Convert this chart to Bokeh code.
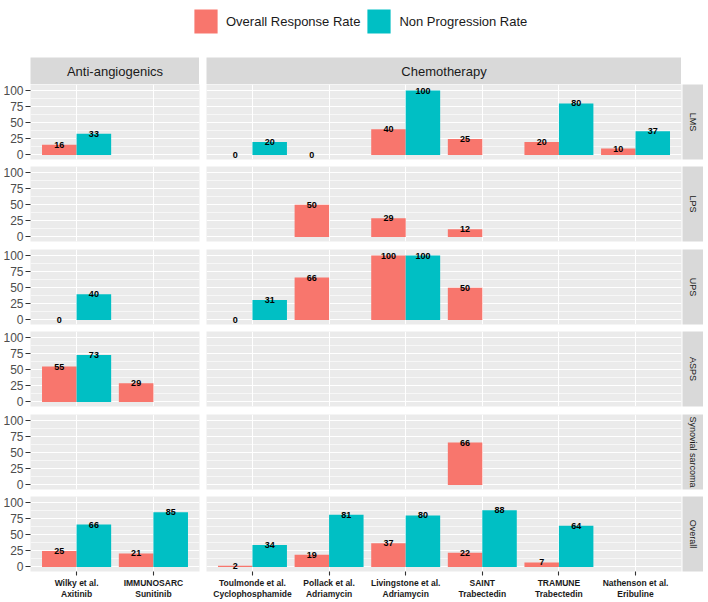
import math
from bokeh.plotting import figure
from bokeh.models import (ColumnDataSource, FactorRange, Range1d, FixedTicker, Label,
                          Legend, LegendItem, GridBox)
from bokeh.transform import dodge
from bokeh.core.properties import value
from bokeh.embed import file_html
from bokeh.resources import INLINE

# ---------------- data ----------------
series_names = ["Overall Response Rate", "Non Progression Rate"]
groups = ["Anti-angiogenics", "Chemotherapy"]
studies_aa = ["Wilky et al.\nAxitinib", "IMMUNOSARC\nSunitinib"]
studies_ch = ["Toulmonde et al.\nCyclophosphamide", "Pollack et al.\nAdriamycin",
              "Livingstone et al.\nAdriamycin", "SAINT\nTrabectedin",
              "TRAMUNE\nTrabectedin", "Nathenson et al.\nEribuline"]
histologies = ["LMS", "LPS", "UPS", "ASPS", "Synovial sarcoma", "Overall"]
y_ticks = [0, 25, 50, 75, 100]

# values in order: 2 anti-angiogenic studies, then 6 chemotherapy studies (None = not reported)
orr_lms = [16, None, 0, 0, 40, 25, 20, 10]
npr_lms = [33, None, 20, None, 100, None, 80, 37]
orr_lps = [None, None, None, 50, 29, 12, None, None]
npr_lps = [None, None, None, None, None, None, None, None]
orr_ups = [0, None, 0, 66, 100, 50, None, None]
npr_ups = [40, None, 31, None, 100, None, None, None]
orr_asps = [55, 29, None, None, None, None, None, None]
npr_asps = [73, None, None, None, None, None, None, None]
orr_syn = [None, None, None, None, None, 66, None, None]
npr_syn = [None, None, None, None, None, None, None, None]
orr_all = [25, 21, 2, 19, 37, 22, 7, None]
npr_all = [66, 85, 34, 81, 80, 88, 64, None]

orr_rows = [orr_lms, orr_lps, orr_ups, orr_asps, orr_syn, orr_all]
npr_rows = [npr_lms, npr_lps, npr_ups, npr_asps, npr_syn, npr_all]

# ---------------- style / layout ----------------
C_ORR = "#F8766D"
C_NPR = "#00BFC4"
PANEL_BG = "#EBEBEB"
STRIP_BG = "#D9D9D9"
FONT = "Liberation Sans"
Y_LO, Y_HI = -7, 109.5
PH = 75                      # panel frame height
ROW_GAPS = [7, 8, 7, 8, 7]   # space below rows 1..5
LEFT_AX = 30
W_AA = 169
PANEL_GAP = 7
W_CH = 475
STRIP_W = 21
STRIP_H = 27
BOTTOM_AX = 27
LEGEND_H = 57
TOTAL_W = LEFT_AX + W_AA + PANEL_GAP + W_CH + 1 + STRIP_W


def base_fig(fw, fh, left=0, right=0, top=0, bottom=0, **kw):
    return figure(frame_width=fw, frame_height=fh, toolbar_location=None,
                  output_backend="svg", outline_line_color=None,
                  min_border_left=left, min_border_right=right,
                  min_border_top=top, min_border_bottom=bottom,
                  border_fill_color="white", **kw)


def make_panel(studies, orr, npr, left_axis, bottom_axis, fw, right_border, gap):
    p = base_fig(fw, PH, left=LEFT_AX if left_axis else 0, right=right_border,
                 bottom=BOTTOM_AX if bottom_axis else gap,
                 x_range=FactorRange(*studies, range_padding=0.1, range_padding_units="absolute"),
                 y_range=Range1d(Y_LO, Y_HI),
                 x_axis_location="below" if bottom_axis else None,
                 y_axis_location="left" if left_axis else None,
                 background_fill_color=PANEL_BG)

    p.xgrid.grid_line_color = "white"
    p.xgrid.grid_line_width = 1.1
    p.ygrid.ticker = FixedTicker(ticks=y_ticks, minor_ticks=[12.5, 37.5, 62.5, 87.5])
    p.ygrid.grid_line_color = "white"
    p.ygrid.grid_line_width = 1.1
    p.ygrid.minor_grid_line_color = "white"
    p.ygrid.minor_grid_line_width = 0.6

    if left_axis:
        ax = p.yaxis[0]
        ax.ticker = FixedTicker(ticks=y_ticks)
        ax.axis_line_color = None
        ax.major_tick_in = 0
        ax.major_tick_out = 5
        ax.major_tick_line_color = "#333333"
        ax.major_tick_line_width = 1.1
        ax.minor_tick_line_color = None
        ax.major_label_standoff = 2
        ax.major_label_text_font_size = "12px"
        ax.major_label_text_color = "#4D4D4D"
        ax.major_label_text_font = FONT
    if bottom_axis:
        ax = p.xaxis[0]
        ax.axis_line_color = None
        ax.major_tick_in = 0
        ax.major_tick_out = 4
        ax.major_tick_line_color = "#333333"
        ax.major_tick_line_width = 1.1
        ax.major_label_standoff = 2
        ax.major_label_text_font_size = "8.5px"
        ax.major_label_text_line_height = 1.1
        ax.major_label_text_font_style = "bold"
        ax.major_label_text_color = "#1A1A1A"
        ax.major_label_text_font = FONT

    sources = []
    for vals, off, color in ((orr, -0.225, C_ORR), (npr, 0.225, C_NPR)):
        xs = [s for s, v in zip(studies, vals) if v is not None]
        ys = [v for v in vals if v is not None]
        if not xs:
            continue
        src = ColumnDataSource(dict(x=xs, y=ys, lbl=[str(v) for v in ys]))
        p.vbar(x=dodge("x", off, range=p.x_range), top="y", width=0.45, source=src,
               fill_color=color, line_color=None)
        sources.append((src, off))
    for src, off in sources:
        p.text(x=dodge("x", off, range=p.x_range), y="y", text="lbl", source=src,
               text_align="center", text_baseline="middle", text_font_style="bold",
               text_font_size="9px", text_color="black", text_font=value(FONT))
    return p


def make_strip(text, fw, fh, left=0, bottom=0, angle=0.0, size="13px"):
    s = base_fig(fw, fh, left=left, bottom=bottom,
                 x_range=Range1d(0, 1), y_range=Range1d(0, 1),
                 x_axis_location=None, y_axis_location=None,
                 background_fill_color=STRIP_BG)
    s.grid.visible = False
    s.add_layout(Label(x=0.5, y=0.5, text=text, text_align="center",
                       text_baseline="middle", angle=angle, text_font_size=size,
                       text_color="#1A1A1A", text_font=FONT))
    return s


children = []

# legend
lg = base_fig(TOTAL_W, LEGEND_H, x_range=FactorRange(*series_names), y_range=Range1d(0, 1),
              x_axis_location=None, y_axis_location=None)
lg.grid.visible = False
r_orr = lg.vbar(x=[series_names[0]], top=[0], width=0.45, fill_color=C_ORR, line_color=None)
r_npr = lg.vbar(x=[series_names[1]], top=[0], width=0.45, fill_color=C_NPR, line_color=None)
legend = Legend(items=[LegendItem(label=series_names[0], renderers=[r_orr]),
                       LegendItem(label=series_names[1], renderers=[r_npr])],
                orientation="horizontal", location=(191, LEGEND_H - 36), margin=0, padding=0,
                spacing=4, glyph_width=29, glyph_height=30, label_standoff=6, label_height=30,
                label_text_font_size="13px", label_text_font=FONT, label_text_color="#1A1A1A",
                border_line_color=None, background_fill_alpha=0)
lg.add_layout(legend, "center")
children.append((lg, 0, 0, 1, 3))

# column strips
children.append((make_strip(groups[0], W_AA, STRIP_H, left=LEFT_AX), 1, 0))
children.append((make_strip(groups[1], W_CH, STRIP_H), 1, 1))

n_aa = len(studies_aa)
for i, hist in enumerate(histologies):
    last = i == len(histologies) - 1
    gap = 0 if last else ROW_GAPS[i]
    orr = orr_rows[i]
    npr = npr_rows[i]
    pa = make_panel(studies_aa, orr[:n_aa], npr[:n_aa], True, last, W_AA, PANEL_GAP, gap)
    pc = make_panel(studies_ch, orr[n_aa:], npr[n_aa:], False, last, W_CH, 1, gap)
    st = make_strip(hist, STRIP_W, PH, bottom=BOTTOM_AX if last else gap,
                    angle=-math.pi / 2, size="9px")
    children.append((pa, 2 + i, 0))
    children.append((pc, 2 + i, 1))
    children.append((st, 2 + i, 2))

layout = GridBox(children=children, spacing=0)

open("out.html", "w").write(file_html(layout, INLINE))
